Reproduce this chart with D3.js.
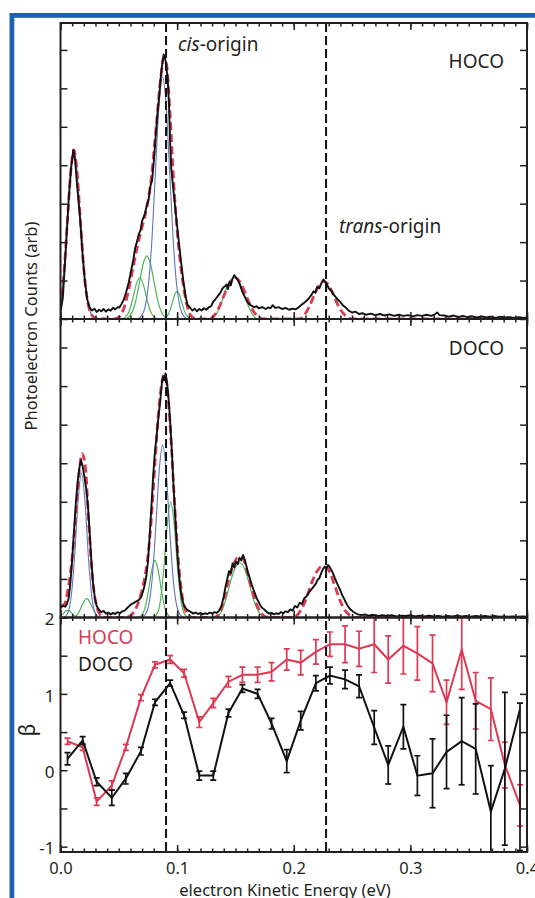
<!DOCTYPE html>
<html>
<head>
<meta charset="utf-8">
<script src="https://cdn.jsdelivr.net/npm/d3@7"></script>
<style>
  body { margin: 0; background: #fff; }
  svg { display: block; }
  text { font-family: "Noto Sans", sans-serif; fill: #231f20; }
</style>
</head>
<body>
<div id="chart"></div>
<script>
// ---- spectra (eKE in eV, counts arb.) ----
const hocoTrace = [
[0.000,0.18],[0.002,0.55],[0.0035,1.3],[0.0053,2.2],[0.007,3.1],[0.009,3.9],[0.011,4.4],[0.0125,4.15],[0.014,3.55],[0.0167,2.65],[0.019,1.65],[0.021,0.95],[0.023,0.5],[0.025,0.3],[0.027,0.22],[0.029,0.27],[0.031,0.18],[0.033,0.24],[0.035,0.2],[0.037,0.26],[0.039,0.19],[0.041,0.25],[0.043,0.22],[0.045,0.29],[0.047,0.25],[0.049,0.31],[0.0505,0.3],[0.0525,0.4],[0.0545,0.52],[0.0565,0.72],[0.0585,0.95],[0.0605,1.25],[0.0625,1.55],[0.064,1.85],[0.0655,2.0],[0.067,2.2],[0.0685,2.3],[0.070,2.55],[0.072,2.7],[0.074,2.95],[0.0755,3.1],[0.077,3.45],[0.0785,3.6],[0.080,4.1],[0.0815,4.7],[0.083,5.3],[0.0845,5.75],[0.086,6.3],[0.0875,6.7],[0.0885,6.88],[0.0895,6.8],[0.0905,6.65],[0.092,6.2],[0.093,5.6],[0.094,4.6],[0.095,3.9],[0.097,3.3],[0.099,2.7],[0.1015,2.0],[0.1035,1.45],[0.1055,0.95],[0.1075,0.55],[0.109,0.36],[0.111,0.3],[0.113,0.22],[0.115,0.27],[0.117,0.2],[0.119,0.26],[0.121,0.22],[0.123,0.28],[0.125,0.24],[0.127,0.3],[0.129,0.33],[0.131,0.45],[0.133,0.52],[0.135,0.6],[0.137,0.68],[0.139,0.8],[0.141,0.85],[0.1425,0.9],[0.1435,0.78],[0.145,0.97],[0.146,0.88],[0.1475,1.05],[0.149,1.14],[0.1505,1.08],[0.152,1.02],[0.154,0.88],[0.156,0.7],[0.158,0.58],[0.160,0.45],[0.162,0.38],[0.164,0.34],[0.166,0.31],[0.168,0.33],[0.170,0.28],[0.173,0.31],[0.176,0.26],[0.178,0.3],[0.180,0.28],[0.182,0.36],[0.184,0.29],[0.187,0.31],[0.190,0.26],[0.193,0.29],[0.196,0.24],[0.199,0.27],[0.2015,0.25],[0.204,0.3],[0.207,0.38],[0.210,0.45],[0.2125,0.52],[0.215,0.62],[0.217,0.72],[0.2185,0.68],[0.220,0.83],[0.222,0.8],[0.2235,0.92],[0.2255,1.03],[0.227,0.96],[0.2285,0.9],[0.230,0.8],[0.232,0.74],[0.234,0.64],[0.236,0.57],[0.238,0.5],[0.240,0.44],[0.242,0.36],[0.2445,0.3],[0.247,0.22],[0.250,0.17],[0.253,0.19],[0.256,0.13],[0.259,0.15],[0.262,0.11],[0.266,0.14],[0.270,0.1],[0.274,0.13],[0.278,0.09],[0.282,0.12],[0.286,0.08],[0.290,0.11],[0.294,0.08],[0.298,0.1],[0.302,0.07],[0.306,0.1],[0.310,0.08],[0.314,0.11],[0.318,0.08],[0.321,0.12],[0.323,0.17],[0.325,0.1],[0.329,0.09],[0.333,0.06],[0.337,0.09],[0.341,0.05],[0.345,0.08],[0.349,0.05],[0.353,0.07],[0.357,0.04],[0.361,0.07],[0.365,0.04],[0.369,0.06],[0.373,0.03],[0.377,0.06],[0.381,0.04],[0.385,0.05],[0.389,0.03],[0.393,0.05],[0.397,0.03],[0.400,0.04]
];
const hocoFit = [
[0.000,0.3],[0.003,1.2],[0.006,2.6],[0.009,3.9],[0.0115,4.4],[0.014,3.9],[0.017,2.6],[0.020,1.3],[0.023,0.5],[0.026,0.15],[0.030,0.02],[0.045,0.0],[0.050,0.05],[0.054,0.25],[0.058,0.7],[0.062,1.3],[0.066,1.9],[0.070,2.4],[0.074,2.9],[0.078,3.7],[0.082,5.0],[0.086,6.3],[0.0885,6.8],[0.091,6.6],[0.094,5.3],[0.097,3.6],[0.100,2.3],[0.103,1.4],[0.106,0.75],[0.109,0.3],[0.112,0.08],[0.116,0.0],[0.128,0.0],[0.132,0.1],[0.136,0.3],[0.140,0.6],[0.144,0.88],[0.148,1.05],[0.150,1.07],[0.153,1.0],[0.157,0.78],[0.161,0.48],[0.165,0.22],[0.169,0.08],[0.174,0.0],[0.205,0.0],[0.209,0.1],[0.213,0.3],[0.217,0.58],[0.221,0.84],[0.2255,0.98],[0.229,0.92],[0.233,0.7],[0.237,0.42],[0.241,0.2],[0.245,0.07],[0.250,0.0],[0.400,0.0]
];
const hocoBlue = [
[[0.000,0.3],[0.003,1.2],[0.006,2.6],[0.009,3.9],[0.0115,4.35],[0.014,3.9],[0.017,2.6],[0.020,1.3],[0.023,0.5],[0.026,0.15],[0.030,0.0]],
[[0.066,0.0],[0.0695,0.08],[0.0725,0.31],[0.0755,0.91],[0.0785,2.12],[0.0815,3.88],[0.0845,5.58],[0.0875,6.3],[0.0905,5.58],[0.0935,3.88],[0.0965,2.12],[0.0995,0.91],[0.1025,0.31],[0.1055,0.08],[0.109,0.0]]
];
const hocoGreen = [
[[0.053,0.0],[0.056,0.06],[0.059,0.21],[0.062,0.53],[0.065,0.9],[0.068,1.08],[0.071,0.9],[0.074,0.53],[0.077,0.21],[0.080,0.06],[0.083,0.0]],
[[0.056,0.0],[0.059,0.07],[0.062,0.22],[0.065,0.53],[0.068,1.0],[0.071,1.45],[0.074,1.64],[0.077,1.45],[0.080,1.0],[0.083,0.53],[0.086,0.22],[0.089,0.07],[0.092,0.0]],
[[0.088,0.0],[0.090,0.03],[0.092,0.1],[0.094,0.23],[0.096,0.44],[0.098,0.64],[0.100,0.72],[0.102,0.64],[0.104,0.44],[0.106,0.23],[0.108,0.1],[0.110,0.03],[0.112,0.0]],
[[0.127,0.0],[0.130,0.02],[0.134,0.15],[0.138,0.42],[0.142,0.78],[0.146,1.02],[0.149,1.08],[0.152,1.02],[0.156,0.78],[0.160,0.42],[0.164,0.15],[0.168,0.02],[0.171,0.0]]
];

const docoTrace = [
[0.000,0.25],[0.002,0.3],[0.004,0.28],[0.0055,0.35],[0.007,0.5],[0.0085,0.9],[0.010,1.5],[0.0115,2.2],[0.013,2.9],[0.0145,3.45],[0.016,3.85],[0.0176,4.08],[0.019,3.92],[0.0205,3.65],[0.022,3.35],[0.0235,2.9],[0.025,2.2],[0.0265,1.45],[0.028,0.85],[0.0295,0.5],[0.031,0.3],[0.033,0.2],[0.035,0.14],[0.037,0.17],[0.039,0.1],[0.041,0.13],[0.043,0.08],[0.045,0.12],[0.047,0.09],[0.049,0.14],[0.051,0.11],[0.053,0.16],[0.055,0.18],[0.057,0.24],[0.059,0.3],[0.061,0.35],[0.063,0.38],[0.065,0.42],[0.067,0.45],[0.069,0.52],[0.0705,0.65],[0.072,0.82],[0.0735,1.05],[0.075,1.45],[0.0765,2.15],[0.078,2.9],[0.0795,3.7],[0.081,4.3],[0.0825,4.75],[0.084,5.2],[0.0855,5.6],[0.087,6.1],[0.088,6.25],[0.089,6.15],[0.090,6.33],[0.0915,6.05],[0.093,5.55],[0.094,5.1],[0.0955,4.3],[0.097,3.35],[0.0985,2.55],[0.100,1.75],[0.1015,1.15],[0.103,0.72],[0.1045,0.45],[0.106,0.3],[0.108,0.22],[0.110,0.17],[0.112,0.14],[0.114,0.1],[0.116,0.13],[0.118,0.09],[0.120,0.12],[0.122,0.08],[0.124,0.11],[0.126,0.09],[0.128,0.13],[0.130,0.1],[0.132,0.14],[0.134,0.12],[0.136,0.18],[0.138,0.3],[0.140,0.55],[0.1415,0.8],[0.143,1.0],[0.1445,1.2],[0.146,1.15],[0.1475,1.4],[0.149,1.3],[0.1505,1.45],[0.152,1.38],[0.1535,1.55],[0.155,1.48],[0.1565,1.62],[0.158,1.5],[0.1595,1.32],[0.161,1.13],[0.1625,1.0],[0.164,0.85],[0.1655,0.72],[0.167,0.6],[0.1685,0.48],[0.170,0.4],[0.1715,0.3],[0.173,0.25],[0.175,0.2],[0.177,0.14],[0.179,0.1],[0.181,0.12],[0.183,0.08],[0.185,0.11],[0.187,0.09],[0.189,0.14],[0.191,0.11],[0.193,0.16],[0.195,0.14],[0.197,0.21],[0.199,0.18],[0.201,0.3],[0.203,0.26],[0.205,0.38],[0.207,0.35],[0.209,0.5],[0.211,0.55],[0.213,0.65],[0.215,0.72],[0.217,0.8],[0.219,0.88],[0.2205,0.98],[0.222,1.02],[0.2235,1.15],[0.225,1.25],[0.2265,1.32],[0.228,1.27],[0.2295,1.36],[0.231,1.3],[0.2325,1.22],[0.234,1.12],[0.2355,1.0],[0.237,0.9],[0.2385,0.8],[0.240,0.7],[0.2415,0.58],[0.243,0.5],[0.2445,0.4],[0.246,0.32],[0.2475,0.25],[0.249,0.2],[0.251,0.15],[0.253,0.11],[0.255,0.08],[0.258,0.06],[0.261,0.08],[0.264,0.05],[0.268,0.07],[0.272,0.04],[0.276,0.06],[0.280,0.04],[0.284,0.06],[0.288,0.03],[0.292,0.05],[0.296,0.04],[0.300,0.06],[0.304,0.03],[0.308,0.05],[0.312,0.03],[0.316,0.05],[0.320,0.03],[0.324,0.04],[0.328,0.02],[0.332,0.04],[0.336,0.03],[0.340,0.05],[0.344,0.03],[0.348,0.04],[0.352,0.02],[0.356,0.04],[0.360,0.03],[0.364,0.04],[0.368,0.02],[0.372,0.04],[0.376,0.02],[0.380,0.03],[0.384,0.02],[0.388,0.03],[0.392,0.02],[0.396,0.03],[0.400,0.02]
];
const docoFit = [
[0.000,0.3],[0.0035,0.35],[0.0065,0.75],[0.0095,1.4],[0.0125,2.4],[0.0155,3.6],[0.0185,4.25],[0.0215,3.85],[0.0245,2.3],[0.0275,1.0],[0.0305,0.35],[0.0335,0.1],[0.037,0.0],[0.055,0.0],[0.060,0.05],[0.064,0.2],[0.068,0.5],[0.072,1.0],[0.075,1.6],[0.078,2.6],[0.081,4.0],[0.084,5.3],[0.087,6.1],[0.089,6.3],[0.091,6.1],[0.094,5.0],[0.097,3.4],[0.100,1.9],[0.103,0.85],[0.106,0.3],[0.109,0.08],[0.113,0.0],[0.132,0.0],[0.136,0.1],[0.140,0.45],[0.144,0.95],[0.148,1.35],[0.152,1.55],[0.156,1.55],[0.160,1.2],[0.164,0.75],[0.168,0.35],[0.172,0.12],[0.176,0.02],[0.180,0.0],[0.200,0.0],[0.204,0.1],[0.208,0.3],[0.212,0.6],[0.216,0.95],[0.220,1.2],[0.224,1.32],[0.228,1.3],[0.232,1.1],[0.236,0.75],[0.240,0.42],[0.244,0.18],[0.248,0.06],[0.252,0.0],[0.400,0.0]
];
const docoBlue = [
[[0.003,0.0],[0.006,0.1],[0.009,0.5],[0.012,1.54],[0.015,3.0],[0.018,3.75],[0.021,3.0],[0.024,1.54],[0.027,0.5],[0.030,0.1],[0.033,0.0]],
[[0.0696,0.0],[0.0726,0.07],[0.0756,0.31],[0.0786,1.0],[0.0816,2.3],[0.0846,3.79],[0.0876,4.47],[0.0906,3.79],[0.0936,2.3],[0.0966,1.0],[0.0996,0.31],[0.1026,0.07],[0.1056,0.0]]
];
const docoGreen = [
[[0.000,0.05],[0.0025,0.1],[0.005,0.18],[0.0075,0.18],[0.010,0.1],[0.0125,0.03],[0.015,0.0]],
[[0.0095,0.0],[0.0125,0.02],[0.0155,0.12],[0.019,0.35],[0.0225,0.49],[0.026,0.35],[0.0295,0.12],[0.0325,0.02],[0.0355,0.0]],
[[0.066,0.0],[0.069,0.04],[0.072,0.2],[0.075,0.61],[0.078,1.18],[0.081,1.48],[0.084,1.18],[0.087,0.61],[0.090,0.2],[0.093,0.04],[0.096,0.0]],
[[0.0795,0.0],[0.0825,0.08],[0.0855,0.4],[0.0885,1.23],[0.0915,2.4],[0.0945,3.0],[0.0975,2.4],[0.1005,1.23],[0.1035,0.4],[0.1065,0.08],[0.1095,0.0]],
[[0.134,0.0],[0.138,0.15],[0.142,0.5],[0.146,0.95],[0.150,1.3],[0.154,1.42],[0.158,1.25],[0.162,0.85],[0.166,0.42],[0.170,0.14],[0.175,0.0]]
];

// ---- anisotropy parameter ----
const betaEnergy = [0.006,0.019,0.031,0.044,0.056,0.069,0.081,0.094,0.106,0.119,0.131,0.144,0.156,0.169,0.181,0.194,0.206,0.219,0.231,0.244,0.256,0.269,0.281,0.294,0.306,0.319,0.331,0.344,0.356,0.369,0.381,0.394];
const betaHoco = [0.38,0.30,-0.41,-0.20,0.30,0.95,1.38,1.45,1.27,0.63,0.88,1.16,1.25,1.25,1.29,1.45,1.41,1.55,1.65,1.65,1.59,1.65,1.45,1.63,1.53,1.40,0.89,1.58,0.91,0.80,0.07,-0.46];
const errHoco = [0.04,0.04,0.05,0.06,0.04,0.04,0.04,0.05,0.05,0.07,0.06,0.07,0.1,0.1,0.12,0.14,0.16,0.16,0.16,0.24,0.23,0.37,0.31,0.37,0.35,0.37,0.29,0.52,0.37,0.41,0.3,0.27];
const betaDoco = [0.15,0.39,-0.15,-0.36,-0.11,0.25,0.89,1.14,0.72,-0.07,-0.07,0.75,1.07,1.0,0.61,0.12,0.65,1.14,1.24,1.19,1.10,0.56,0.07,0.57,-0.07,-0.04,0.24,0.38,0.28,-0.54,0.02,0.80];
const errDocoLo = [0.08,0.05,0.05,0.1,0.07,0.05,0.04,0.04,0.04,0.06,0.06,0.05,0.05,0.06,0.07,0.15,0.12,0.1,0.11,0.12,0.15,0.22,0.25,0.29,0.26,0.45,0.48,0.57,0.59,0.6,1.0,1.85];
const errDocoHi = [0.08,0.05,0.05,0.1,0.07,0.05,0.04,0.04,0.04,0.06,0.06,0.05,0.05,0.06,0.07,0.15,0.12,0.1,0.11,0.12,0.15,0.22,0.25,0.29,0.26,0.45,0.48,0.57,0.59,0.6,1.0,0.08];

const originLines = [0.0905, 0.2277];
const xLabels = [0, 0.1, 0.2, 0.3, 0.4];
const xMinor = d3.range(0, 0.4001, 0.01);
const countTicks = [0, 1, 2, 3, 4, 5, 6, 7];
const betaTicks = [-1, -0.5, 0, 0.5, 1, 1.5, 2];

const RED = "#dc3a52", BLUE = "#5f72c2", GREEN = "#4fb35a", INK = "#231f20";

const width = 535, height = 898;
const svg = d3.select("#chart").append("svg")
    .attr("width", width)
    .attr("height", height);

// blue frame of the figure
svg.append("rect")
    .attr("x", 11.9).attr("y", 15.4)
    .attr("width", 600).attr("height", 1000)
    .attr("fill", "none")
    .attr("stroke", "#1c62b0")
    .attr("stroke-width", 4.8);

const x = d3.scaleLinear().domain([0, 0.4]).range([60.5, 527]);
const yHoco = d3.scaleLinear().domain([0, 7.7]).range([319, 23]);
const yDoco = d3.scaleLinear().domain([0, 7.74]).range([617.5, 319]);
const yBeta = d3.scaleLinear().domain([-1.07, 2]).range([852, 617.5]);

// clip paths
function clipFor(id, y) {
    const [b, t] = y.range();
    svg.append("clipPath").attr("id", id)
        .append("rect")
        .attr("x", x(0)).attr("y", t)
        .attr("width", x(0.4) - x(0)).attr("height", b - t);
    return `url(#${id})`;
}

function drawSpectrum(y, clipId, trace, fit, blues, greens) {
    const g = svg.append("g").attr("clip-path", clipFor(clipId, y));
    const fitLine = d3.line().x(d => x(d[0])).y(d => y(d[1])).curve(d3.curveMonotoneX);
    const raw = d3.line().x(d => x(d[0])).y(d => y(d[1]));

    g.selectAll(".green").data(greens).enter().append("path")
        .attr("d", fitLine).attr("fill", "none")
        .attr("stroke", GREEN).attr("stroke-width", 1.2);
    g.selectAll(".blue").data(blues).enter().append("path")
        .attr("d", fitLine).attr("fill", "none")
        .attr("stroke", BLUE).attr("stroke-width", 1.1);
    g.append("path").datum(fit)
        .attr("d", fitLine).attr("fill", "none")
        .attr("stroke", RED).attr("stroke-width", 2.8)
        .attr("stroke-dasharray", "8,4");
    g.append("path").datum(trace)
        .attr("d", raw).attr("fill", "none")
        .attr("stroke", "#111").attr("stroke-width", 1.9)
        .attr("stroke-linejoin", "round");
}

drawSpectrum(yHoco, "clipHoco", hocoTrace, hocoFit, hocoBlue, hocoGreen);
drawSpectrum(yDoco, "clipDoco", docoTrace, docoFit, docoBlue, docoGreen);

// beta panel
const gb = svg.append("g").attr("clip-path", clipFor("clipBeta", yBeta));
function drawBeta(vals, lo, hi, color) {
    const pts = betaEnergy.map((e, i) => ({e, v: vals[i], lo: vals[i] - lo[i], hi: vals[i] + hi[i]}));
    gb.append("path").datum(pts)
        .attr("d", d3.line().x(d => x(d.e)).y(d => yBeta(d.v)))
        .attr("fill", "none").attr("stroke", color).attr("stroke-width", 2);
    const bars = gb.append("g").attr("stroke", color).attr("stroke-width", 1.7);
    bars.selectAll(".bar").data(pts).enter().append("line")
        .attr("x1", d => x(d.e)).attr("x2", d => x(d.e))
        .attr("y1", d => yBeta(d.lo)).attr("y2", d => yBeta(d.hi));
    bars.selectAll(".capLo").data(pts).enter().append("line")
        .attr("x1", d => x(d.e) - 3).attr("x2", d => x(d.e) + 3)
        .attr("y1", d => yBeta(d.lo)).attr("y2", d => yBeta(d.lo));
    bars.selectAll(".capHi").data(pts).enter().append("line")
        .attr("x1", d => x(d.e) - 3).attr("x2", d => x(d.e) + 3)
        .attr("y1", d => yBeta(d.hi)).attr("y2", d => yBeta(d.hi));
}
drawBeta(betaHoco, errHoco, errHoco, RED);
drawBeta(betaDoco, errDocoLo, errDocoHi, "#111");

// origin lines
svg.selectAll(".origin").data(originLines).enter().append("line")
    .attr("x1", d => x(d)).attr("x2", d => x(d))
    .attr("y1", yHoco.range()[1]).attr("y2", yBeta.range()[0])
    .attr("stroke", "#111").attr("stroke-width", 2)
    .attr("stroke-dasharray", "9,4");

// axes: inward ticks on all four sides of each panel
function styleAxis(sel) {
    sel.select(".domain").remove();
    sel.selectAll(".tick line").attr("stroke", INK).attr("stroke-width", 1.5);
    sel.attr("font-family", null).attr("font-size", null);
}
function panelAxes(y, yTicks) {
    const [b, t] = y.range();
    const g = svg.append("g");
    [[b, d3.axisBottom], [t, d3.axisTop]].forEach(([pos, ax]) => {
        g.append("g").attr("transform", `translate(0,${pos})`)
            .call(ax(x).tickValues(xMinor).tickSize(-3.5).tickFormat("")).call(styleAxis);
        g.append("g").attr("transform", `translate(0,${pos})`)
            .call(ax(x).tickValues(xLabels).tickSize(-7).tickFormat("")).call(styleAxis);
    });
    g.append("g").attr("transform", `translate(${x(0)},0)`)
        .call(d3.axisLeft(y).tickValues(yTicks).tickSize(-7).tickFormat("")).call(styleAxis);
    g.append("g").attr("transform", `translate(${x(0.4)},0)`)
        .call(d3.axisRight(y).tickValues(yTicks).tickSize(-7).tickFormat("")).call(styleAxis);
    g.append("rect")
        .attr("x", x(0)).attr("y", t)
        .attr("width", x(0.4) - x(0)).attr("height", b - t)
        .attr("fill", "none").attr("stroke", INK).attr("stroke-width", 2);
}
panelAxes(yHoco, countTicks);
panelAxes(yDoco, countTicks);
panelAxes(yBeta, betaTicks);

// tick labels on the beta panel
svg.append("g").attr("transform", `translate(0,${yBeta.range()[0]})`)
    .call(d3.axisBottom(x).tickValues(xLabels).tickSize(0).tickPadding(10).tickFormat(d3.format(".1f")))
    .call(g => { g.select(".domain").remove(); g.attr("font-family", null).attr("font-size", null); })
    .selectAll("text").attr("font-size", 16.5).attr("fill", INK);

svg.append("g").attr("transform", `translate(${x(0)},0)`)
    .call(d3.axisLeft(yBeta).tickValues([-1, 0, 1, 2]).tickSize(0).tickPadding(6).tickFormat(d => String(d)))
    .call(g => { g.select(".domain").remove(); g.attr("font-family", null).attr("font-size", null); })
    .selectAll("text").attr("font-size", 17).attr("fill", INK).attr("dy", "0.42em");

// annotations
const cis = svg.append("text").attr("x", 178).attr("y", 51).attr("font-size", 19);
cis.append("tspan").attr("font-style", "italic").text("cis");
cis.append("tspan").text("-origin");

const trans = svg.append("text").attr("x", 339).attr("y", 233).attr("font-size", 19);
trans.append("tspan").attr("font-style", "italic").text("trans");
trans.append("tspan").text("-origin");

svg.append("text").attr("x", 504).attr("y", 68).attr("text-anchor", "end")
    .attr("font-size", 19).text("HOCO");
svg.append("text").attr("x", 504).attr("y", 355).attr("text-anchor", "end")
    .attr("font-size", 19).text("DOCO");

svg.append("text").attr("x", 78).attr("y", 644).attr("font-size", 19)
    .style("fill", RED).text("HOCO");
svg.append("text").attr("x", 78).attr("y", 671).attr("font-size", 19).text("DOCO");

// axis titles
svg.append("text")
    .attr("transform", "translate(37,326) rotate(-90)")
    .attr("text-anchor", "middle").attr("font-size", 16.5)
    .text("Photoelectron Counts (arb)");
svg.append("text")
    .attr("transform", "translate(35,730) rotate(-90)")
    .attr("text-anchor", "middle").attr("font-size", 21)
    .text("β");
svg.append("text")
    .attr("x", 285).attr("y", 896)
    .attr("text-anchor", "middle").attr("font-size", 16.5)
    .text("electron Kinetic Energy (eV)");
</script>
</body>
</html>
